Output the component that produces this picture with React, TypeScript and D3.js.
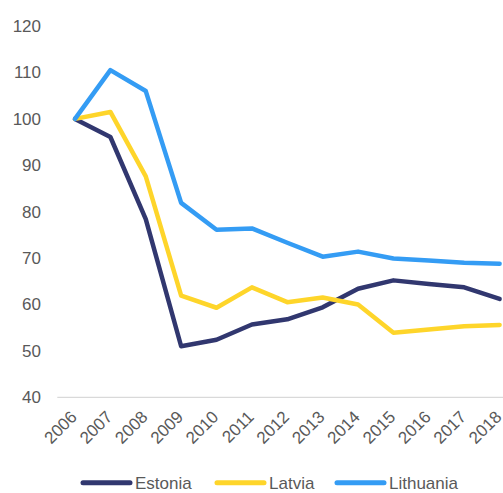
import React from "react";
import * as d3 from "d3";

const years = ["2006","2007","2008","2009","2010","2011","2012","2013","2014","2015","2016","2017","2018"];
const estonia = [100, 96.1, 78.4, 51.0, 52.4, 55.7, 56.8, 59.4, 63.4, 65.2, 64.4, 63.7, 61.2];
const latvia = [100, 101.5, 87.6, 61.9, 59.3, 63.7, 60.5, 61.5, 60.0, 53.9, 54.6, 55.3, 55.6];
const lithuania = [100, 110.5, 106.0, 81.9, 76.1, 76.4, 73.3, 70.3, 71.4, 69.9, 69.5, 69.0, 68.8];
const yTicks = [40, 50, 60, 70, 80, 90, 100, 110, 120];

const seriesList = [
  { name: "Estonia", values: estonia, color: "#31376f" },
  { name: "Latvia", values: latvia, color: "#fed52a" },
  { name: "Lithuania", values: lithuania, color: "#349cf4" },
];

const W = 503, H = 493;
const FONT = "'Liberation Sans', Arial, sans-serif";

export default function App() {
  const x = d3.scalePoint<string>().domain(years).range([75, 499.6]);
  const step = x.step();
  const y = d3.scaleLinear().domain([40, 120]).range([397.3, 26.1]);
  const line = d3.line<number>().x((_, i) => x(years[i])!).y((d) => y(d));
  const legendX = [83, 217, 337];

  return (
    <svg width={W} height={H} style={{ position: "absolute", left: 0, top: 0, background: "#fff" }}>
      <line x1={x(years[0])! - step / 2} x2={x(years[years.length - 1])! + step / 2} y1={y(40)} y2={y(40)} stroke="#d9d9d9" strokeWidth={1.3} />
      {yTicks.map((t) => (
        <text key={t} x={41} y={y(t)} dy="0.35em" textAnchor="end" fontFamily={FONT} fontSize={17} fill="#595959">{t}</text>
      ))}
      {years.map((yr) => (
        <text key={yr} transform={`translate(${x(yr)! + 3},${418}) rotate(-45)`} textAnchor="end" fontFamily={FONT} fontSize={17} fill="#595959">{yr}</text>
      ))}
      {seriesList.map((s) => (
        <path key={s.name} d={line(s.values)!} fill="none" stroke={s.color} strokeWidth={4.5} strokeLinejoin="round" strokeLinecap="round" />
      ))}
      {seriesList.map((s, i) => (
        <g key={s.name}>
          <line x1={legendX[i]} x2={legendX[i] + 47} y1={482.7} y2={482.7} stroke={s.color} strokeWidth={5} strokeLinecap="round" />
          <text x={legendX[i] + 52} y={482.7} dy="0.35em" fontFamily={FONT} fontSize={17} fill="#595959">{s.name}</text>
        </g>
      ))}
    </svg>
  );
}
